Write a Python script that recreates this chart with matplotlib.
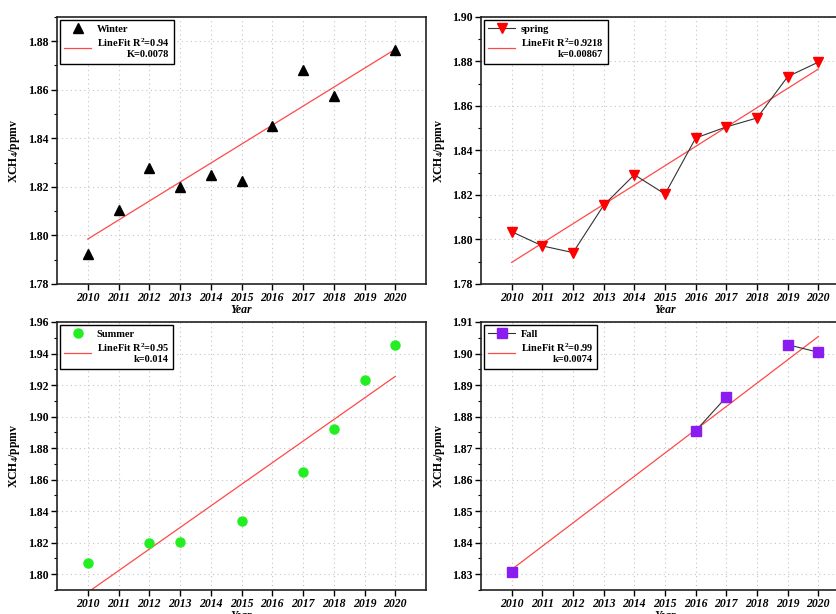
import numpy as np
import matplotlib
matplotlib.use('Agg')
import matplotlib.pyplot as plt
from matplotlib.ticker import MultipleLocator

plt.rcParams['font.family'] = ['Liberation Serif', 'DejaVu Serif']
plt.rcParams['font.weight'] = 'bold'
plt.rcParams['mathtext.fontset'] = 'custom'
plt.rcParams['mathtext.rm'] = 'Liberation Serif:bold'
plt.rcParams['mathtext.it'] = 'Liberation Serif:bold:italic'
plt.rcParams['mathtext.bf'] = 'Liberation Serif:bold'

years = [2010, 2011, 2012, 2013, 2014, 2015, 2016, 2017, 2018, 2019, 2020]
fit_years = [2010, 2020]

nan = np.nan
winter = [1.7923, 1.8106, 1.8276, 1.8198, 1.8249, 1.8226, 1.8452, 1.8681, 1.8573, nan, 1.8763]
winter_fit = [1.7985, 1.8767]

spring = [1.8035, 1.7971, 1.7941, 1.8154, 1.8291, 1.8204, 1.8456, 1.8506, 1.8546, 1.8732, 1.8797]
spring_fit = [1.7897, 1.8766]

summer = [1.8070, nan, 1.8200, 1.8207, nan, 1.8340, nan, 1.8650, 1.8920, 1.9234, 1.9452]
summer_fit = [1.7885, 1.9255]

fall = [1.8308, nan, nan, nan, nan, nan, 1.8755, 1.8862, nan, 1.9028, 1.9004]
fall_fit = [1.8315, 1.9054]

panels = [
    # name, values, fit, marker, color, connect, fit label, ylim, ystep
    ('Winter', winter, winter_fit, '^', 'black', False,
     'LineFit R$^2$=0.94\nK=0.0078', (1.78, 1.89), 0.02),
    ('spring', spring, spring_fit, 'v', 'red', True,
     'LineFit R$^2$=0.9218\nk=0.00867', (1.78, 1.90), 0.02),
    ('Summer', summer, summer_fit, 'o', '#22ee22', False,
     'LineFit R$^2$=0.95\nk=0.014', (1.79, 1.96), 0.02),
    ('Fall', fall, fall_fit, 's', '#8a1cf0', True,
     'LineFit R$^2$=0.99\nk=0.0074', (1.825, 1.91), 0.01),
]

positions = [
    [0.0681, 0.5375, 0.4409, 0.4349],
    [0.5747, 0.5375, 0.4397, 0.4349],
    [0.0681, 0.0391, 0.4409, 0.4365],
    [0.5747, 0.0391, 0.4397, 0.4365],
]

marker_size = {'^': 7.5, 'v': 7.5, 'o': 6.5, 's': 6.5}

fig = plt.figure(figsize=(8.37, 6.14), dpi=100)

for pos, (name, vals, fit, mk, col, connect, fit_label, ylim, ystep) in zip(positions, panels):
    ax = fig.add_axes(pos)
    ax.set_axisbelow(True)
    ax.grid(True, color='#c4c4c4', ls=(0, (1, 3)), lw=0.8)

    ms = marker_size[mk]
    if connect:
        ax.plot(years, vals, color='#333333', lw=0.8, marker=mk, ms=ms,
                mfc=col, mec=col, label=name, zorder=3)
    else:
        ax.plot(years, vals, ls='none', marker=mk, ms=ms,
                mfc=col, mec=col, label=name, zorder=3)
    ax.plot(fit_years, fit, color='#ff4848', lw=0.9, label=fit_label, zorder=2)

    ax.set_xlim(2009, 2021)
    ax.set_ylim(*ylim)
    ax.set_xticks(years)
    ax.set_xticklabels([str(y) for y in years], fontstyle='italic', fontweight='bold', fontsize=8.5)
    ax.yaxis.set_major_locator(MultipleLocator(ystep))
    ax.yaxis.set_minor_locator(MultipleLocator(ystep / 2))
    ax.yaxis.set_major_formatter(plt.FormatStrFormatter('%.2f'))
    for lab in ax.get_yticklabels():
        lab.set_fontsize(8.5)
        lab.set_fontweight('bold')
    ax.tick_params(axis='both', which='major', direction='out', length=4, width=1, pad=2)
    ax.tick_params(axis='y', which='minor', direction='out', length=2, width=0.8)

    for sp in ax.spines.values():
        sp.set_linewidth(1.2)
        sp.set_color('#222222')

    ax.set_xlabel('Year', fontstyle='italic', fontweight='bold', fontsize=8.5, labelpad=0)
    ax.set_ylabel('XCH$_4$/ppmv', fontweight='bold', fontsize=8.5, labelpad=4)

    leg = ax.legend(loc='upper left', fontsize=7.5, frameon=True, fancybox=False,
                    edgecolor='black', framealpha=1, borderaxespad=0.3,
                    handlelength=2.6, handletextpad=0.5, labelspacing=0.3,
                    borderpad=0.4)
    leg.get_frame().set_linewidth(1.0)
    leg.get_texts()[1].set_multialignment('right')

fig.savefig('out.png', dpi=100)
